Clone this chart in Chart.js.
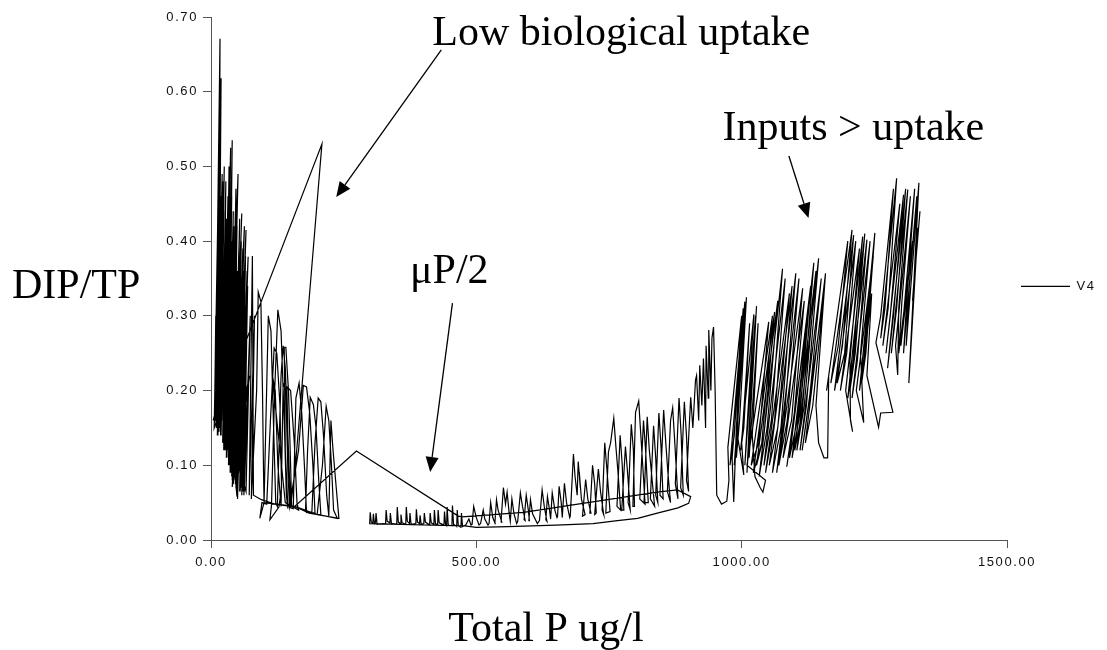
<!DOCTYPE html>
<html>
<head>
<meta charset="utf-8">
<script src="https://cdn.jsdelivr.net/npm/chart.js@4.4.1/dist/chart.umd.min.js"></script>
<style>
html,body{margin:0;padding:0;background:#fff;}
#wrap{position:relative;width:1107px;height:650px;}
canvas{display:block;}
</style>
</head>
<body>
<div id="wrap"><canvas id="c" width="1107" height="650"></canvas></div>
<script>
// ---- Data: Total P (ug/l) vs DIP/TP, one series "V4" in drawing order ----
const seriesName = 'V4';
const xTicks = [0, 500, 1000, 1500];
const yTicks = [0, 0.1, 0.2, 0.3, 0.4, 0.5, 0.6, 0.7];

const tpEarly = [4,8,17,14,19,12,21,15,25,18, 22,16,20,10,23,9,18,13,27,24, 37,30,40,33,39,28,35,26,44,31, 51,38,49,42,58,40,63,48,66,52, 70,55,68,58,60,50,57,45,47,42, 62,36,73,40,55,49,30];
const ratioEarly = [.16,.17,.671,.15,.618,.16,.49,.145,.50,.14, .48,.16,.45,.15,.42,.16,.38,.14,.40,.12, .525,.11,.535,.10,.46,.14,.43,.15,.40,.12, .49,.09,.42,.10,.437,.08,.42,.07,.415,.09, .379,.065,.36,.08,.30,.055,.25,.10,.32,.075, .28,.107,.22,.071,.30,.058,.20];

const tpEarly2 = [6,13,11,16,13,24,17,26,20,29, 23,32,27,34,29,36,32,42,35,45, 37,47,41,53,44,55,47,60,51,64, 56,67,60,72,63,27,20,15,9,7, 30];
const ratioEarly2 = [.15,.44,.15,.52,.16,.47,.15,.36,.16,.43, .13,.46,.12,.50,.11,.38,.12,.44,.10,.38, .09,.47,.10,.40,.085,.36,.07,.39,.08,.33, .07,.30,.065,.25,.07,.17,.30,.16,.30,.18, .20];

const tpEarly3 = [8,15,12,18,15,21,14,24,19,28, 22,31,26,35,30,39,33,43,36,46, 39,50,43,54,46,57,50,61,54,65, 58,69,62,74,66,40,30];
const ratioEarly3 = [.16,.40,.14,.46,.15,.36,.16,.44,.14,.48, .13,.42,.12,.46,.11,.40,.10,.42,.09,.44, .085,.36,.08,.43,.075,.40,.07,.36,.065,.38, .06,.34,.06,.30,.065,.13,.20];

const tpSweepA = [209,158];
const ratioSweepA = [.53,.09];

const tpLateLeft = [150,120,95,80,78,72,82,76,86,89, 94,97,99,100,92,96,105,112,119,124, 130,133,128,111,114,120,126,132,138,142, 145,140,138,141,146,150,152,146,143,150, 157,162,165,140,115,121,126,132,136,141, 145,148,165,174,180,186,192,196,178,182, 187,193,198,203,207,200,210,217,222,227, 231,238,224,209,185,158];
const ratioLateLeft = [.045,.048,.054,.06,.38,.06,.30,.055,.20,.332, .319,.20,.09,.05,.029,.05,.048,.16,.257,.25, .18,.07,.044,.027,.047,.20,.308,.28,.16,.06, .042,.12,.258,.258,.20,.10,.044,.10,.205,.20, .13,.05,.04,.05,.223,.20,.10,.045,.21,.20, .09,.045,.12,.207,.205,.17,.10,.036,.038,.12, .191,.181,.15,.08,.034,.034,.10,.179,.16,.10, .04,.029,.031,.033,.036,.045];

const tpLateLeft2 = [100,108,113,118,122,125,132,136,140,146, 150,155,160,166,171,176,180,190,196,202, 207,212,218,222,226,230,236,241,240,200, 158];
const ratioLateLeft2 = [.05,.30,.28,.15,.05,.045,.22,.26,.23,.12, .043,.042,.19,.21,.17,.10,.037,.036,.13,.19, .185,.14,.06,.032,.16,.12,.07,.029,.029,.034, .045];

const tpSweepB = [274,466];
const ratioSweepB = [.119,.032];

const tpLoop = [473,589,747,841,879,904,900,880,841,804,766,720,650,560,500,478,299];
const ratioLoop = [.031,.037,.054,.064,.067,.058,.049,.043,.036,.029,.026,.022,.020,.018,.017,.019,.022];

const tpMid = [300,302,305,306,308,310,311,313,329,330, 332,337,338,340,350,351,353,357,358,360, 367,368,370,374,375,377,386,387,389,393, 394,396,401,402,404,412,413,415,420,421, 423,427,428,430,439,440,442,444,445,447, 454,455,457,463,464,466,471,472,474];
const ratioMid = [.037,.024,.023,.035,.022,.024,.036,.021,.022,.040, .025,.023,.036,.022,.021,.044,.024,.022,.034,.023, .021,.044,.025,.022,.036,.021,.022,.041,.024,.022, .033,.021,.022,.036,.024,.020,.036,.023,.021,.040, .022,.020,.040,.023,.020,.038,.021,.019,.044,.020, .019,.046,.021,.018,.040,.019,.017,.036,.018];

const tpRise = [
  480,486,490, 492,495,500,505, 508,513,516,522, 524,527,531,536, 535,538,541,548,
  547,551,555,558,562, 564,567,571,576, 578,583,587,592, 590,594,598,600, 599,602,606,615,
  619,624,628,633, 631,634,638,640, 639,643,648,652, 653,656,660,662, 662,666,670,676,
  677,683,686,690,692,696,694,698,705, 700,706,710,716, 714,719,723,726, 723,730,734,740,
  737,742,746,752, 744,749,753,759,763,767,772, 765,771,775,778, 774,781,785,790,
  786,792,796,798, 795,800,806,810,814,818, 808,815,819,824, 816,822,826,830,836,
  828,834,838,842, 838,844,848,852, 846,853,857,861,866, 860,866,870,874,880,
  875,882,886,890, 885,892,896,900,
  896,904,908,913,915,919,921,925,928,932,933,937,938,942,944,947,950,953];
const ratioRise = [
  .020,.028,.020, .021,.045,.030,.020, .022,.040,.028,.020, .022,.050,.030,.021, .023,.054,.040,.024,
  .030,.070,.048,.064,.035, .025,.055,.035,.022, .025,.063,.045,.026, .027,.060,.040,.026, .026,.054,.035,.022,
  .026,.067,.045,.025, .027,.058,.040,.028, .028,.063,.040,.030, .031,.072,.050,.030, .031,.076,.050,.030,
  .032,.115,.085,.060,.105,.070,.091,.055,.034, .032,.081,.055,.036, .036,.100,.075,.036, .034,.095,.065,.034,
  .040,.130,.095,.038, .036,.118,.130,.163,.125,.090,.040, .045,.140,.100,.040, .040,.125,.090,.040,
  .050,.155,.120,.045, .045,.171,.186,.140,.095,.048, .055,.160,.120,.050, .050,.165,.120,.090,.045,
  .055,.153,.110,.050, .060,.170,.125,.055, .060,.174,.130,.090,.050, .065,.160,.177,.130,.055,
  .075,.190,.140,.060, .070,.185,.140,.065,
  .080,.191,.150,.214,.220,.160,.234,.180,.243,.150,.260,.190,.281,.200,.270,.285,.200,.060];

const tpHigh1 = [962,972,976,974,1000,986,978,1003,990,985, 982,1006,992,986,1009,996,990,1000,992,1004, 1000,1015,1004,998,1023,1010,1006,1026,1014,1010, 1028,1016,1014,1031,1020,1025,1035,1040,1045];
const ratioHigh1 = [.048,.052,.08,.124,.30,.14,.10,.31,.15,.051, .11,.319,.15,.10,.325,.16,.11,.29,.14,.087, .13,.29,.15,.12,.302,.15,.10,.30,.15,.09, .313,.16,.11,.29,.14,.085,.07,.064,.08];

const tpHigh2 = [1010,1051,1032,1018,1058,1038,1022,1062,1042,1028, 1068,1048,1033,1077,1056,1042,1082,1062,1045,1090, 1068,1052,1095,1074,1058,1102,1080,1066,1108,1086, 1070,1115,1094,1078,1118,1098,1085,1125,1105,1090, 1130,1110,1095,1136,1114,1100,1140,1118,1104,1145, 1122,1110,1150,1128,1114,1155,1134,1120,1158,1140, 1145,1155,1162];
const ratioHigh2 = [.10,.292,.13,.10,.30,.13,.09,.305,.14,.10, .32,.15,.085,.363,.16,.10,.35,.16,.09,.33, .15,.10,.34,.15,.09,.357,.16,.09,.35,.16, .10,.337,.16,.11,.32,.16,.098,.30,.16,.11, .34,.17,.11,.371,.17,.12,.36,.18,.12,.377, .18,.12,.35,.19,.12,.33,.18,.13,.357,.18, .13,.11,.11];

const tpHigh3 = [1164,1160,1172,1200,1182,1168,1208,1190,1175,1211, 1194,1180,1215,1198,1186,1222,1204,1205,1209,1196, 1228,1210,1200,1232,1214,1204,1236,1218,1208,1242, 1224,1230,1216,1248,1230,1222,1251,1234,1226,1245, 1236,1258,1262,1285];
const ratioHigh3 = [.218,.20,.26,.40,.26,.21,.415,.26,.20,.408, .25,.21,.40,.25,.20,.39,.24,.16,.145,.20, .406,.24,.19,.41,.25,.20,.402,.24,.19,.40, .25,.157,.20,.38,.24,.20,.411,.25,.21,.33, .22,.151,.17,.171];

const tpHigh4 = [1253,1262,1286,1270,1262,1292,1276,1266,1298,1280, 1272,1305,1286,1275,1309,1292,1282,1313,1296,1294, 1290,1318,1302,1296,1322,1308,1300,1326,1312,1305, 1330,1316,1310,1334,1315,1320,1332,1322,1336];
const ratioHigh4 = [.264,.30,.47,.31,.27,.484,.31,.26,.45,.30, .25,.462,.30,.23,.47,.31,.25,.469,.31,.221, .26,.46,.32,.25,.40,.31,.26,.47,.33,.25, .46,.34,.26,.478,.21,.27,.418,.32,.44];

// ---- annotation texts and arrows (positions given in data units) ----
const notes = [
  {text: 'Low biological uptake', tp: 417, ratio: 0.663},
  {text: 'Inputs > uptake', tp: 964, ratio: 0.535},
  {text: '\u03bcP/2', tp: 375, ratio: 0.344}
];
const arrows = [
  {from: [434, 0.656], to: [236, 0.459]},
  {from: [455, 0.317], to: [413, 0.091]},
  {from: [1089, 0.514], to: [1126, 0.431]}
];
const yTitle = 'DIP/TP';
const xTitle = 'Total P ug/l';

const segments = [
  [tpEarly, ratioEarly], [tpEarly2, ratioEarly2], [tpEarly3, ratioEarly3], [tpSweepA, ratioSweepA],
  [tpLateLeft, ratioLateLeft], [tpLateLeft2, ratioLateLeft2],
  [tpSweepB, ratioSweepB], [tpLoop, ratioLoop], [tpMid, ratioMid], [tpRise, ratioRise],
  [tpHigh1, ratioHigh1], [tpHigh2, ratioHigh2], [tpHigh3, ratioHigh3], [tpHigh4, ratioHigh4]
];
const points = [];
segments.forEach(([tp, r]) => tp.forEach((v, i) => points.push({x: v, y: r[i]})));

const SPACING = '1.6px';
const serif = '"Liberation Serif", "Times New Roman", serif';

const overlay = {
  id: 'overlay',
  beforeLayout(chart) { chart.ctx.letterSpacing = SPACING; },
  beforeDraw(chart) { chart.ctx.letterSpacing = SPACING; },
  afterDraw(chart) {
    const {ctx, chartArea} = chart;
    const xs = chart.scales.x, ys = chart.scales.y;
    ctx.save();
    ctx.letterSpacing = '0px';
    ctx.fillStyle = '#000';
    ctx.strokeStyle = '#000';
    ctx.font = '42px ' + serif;
    ctx.textBaseline = 'alphabetic';
    ctx.textAlign = 'left';
    notes.forEach(n => ctx.fillText(n.text, xs.getPixelForValue(n.tp), ys.getPixelForValue(n.ratio)));
    ctx.fillText(yTitle, chartArea.left - 199, chartArea.top + 281);
    ctx.textAlign = 'center';
    ctx.fillText(xTitle, chartArea.left + 335, chartArea.bottom + 101);
    ctx.lineWidth = 1.3;
    arrows.forEach(a => {
      const x0 = xs.getPixelForValue(a.from[0]), y0 = ys.getPixelForValue(a.from[1]);
      const x1 = xs.getPixelForValue(a.to[0]), y1 = ys.getPixelForValue(a.to[1]);
      const ang = Math.atan2(y1 - y0, x1 - x0);
      const L = 15, W = 6.5;
      const bx = x1 - L * Math.cos(ang), by = y1 - L * Math.sin(ang);
      ctx.beginPath(); ctx.moveTo(x0, y0); ctx.lineTo(bx, by); ctx.stroke();
      ctx.beginPath();
      ctx.moveTo(x1, y1);
      ctx.lineTo(bx + W * Math.sin(ang), by - W * Math.cos(ang));
      ctx.lineTo(bx - W * Math.sin(ang), by + W * Math.cos(ang));
      ctx.closePath(); ctx.fill();
    });
    ctx.restore();
  }
};

const tickFont = {family: '"Liberation Sans", Arial, sans-serif', size: 13};
const axisColor = '#555';

new Chart(document.getElementById('c'), {
  type: 'scatter',
  data: {
    datasets: [{
      label: seriesName,
      data: points,
      showLine: true,
      borderColor: '#000',
      backgroundColor: '#000',
      borderWidth: 1.2,
      pointRadius: 0,
      pointHoverRadius: 0,
      tension: 0
    }]
  },
  options: {
    responsive: false,
    animation: false,
    devicePixelRatio: 1,
    layout: {padding: {top: 17, right: 10, left: 0, bottom: 0}},
    plugins: {
      tooltip: {enabled: false},
      legend: {
        position: 'right',
        fullSize: false,
        maxWidth: 90,
        title: {display: true, text: '', padding: 0, font: {size: 13}},
        labels: {boxWidth: 49, boxHeight: 0, padding: 14, color: '#111', font: tickFont}
      }
    },
    scales: {
      x: {
        type: 'linear', min: xTicks[0], max: xTicks[xTicks.length - 1],
        afterBuildTicks: s => { s.ticks = xTicks.map(v => ({value: v})); },
        afterFit: s => { s.height = 110; },
        grid: {drawOnChartArea: false, drawTicks: true, tickLength: 8, color: axisColor},
        border: {display: true, color: axisColor, width: 1},
        ticks: {color: '#111', font: tickFont, padding: 7, maxRotation: 0, callback: v => Number(v).toFixed(2)}
      },
      y: {
        type: 'linear', min: yTicks[0], max: yTicks[yTicks.length - 1],
        afterBuildTicks: s => { s.ticks = yTicks.map(v => ({value: v})); },
        afterFit: s => { s.width = 211; },
        grid: {drawOnChartArea: false, drawTicks: true, tickLength: 8, color: axisColor},
        border: {display: true, color: axisColor, width: 1},
        ticks: {color: '#111', font: tickFont, padding: 5, callback: v => Number(v).toFixed(2)}
      }
    }
  },
  plugins: [overlay]
});
</script>
</body>
</html>
